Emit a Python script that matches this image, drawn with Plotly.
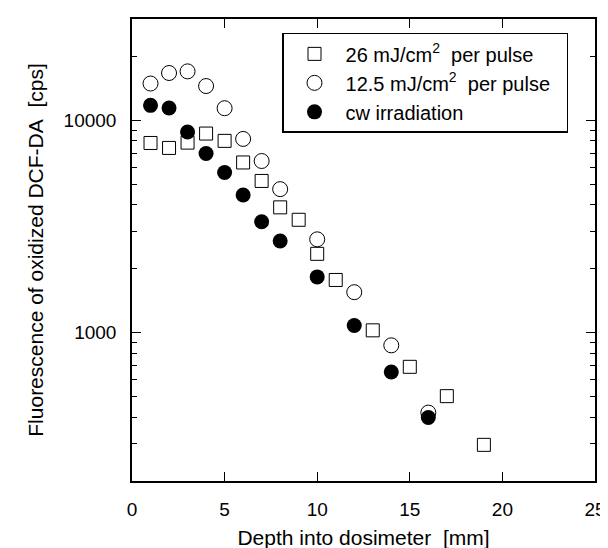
import plotly.graph_objects as go
import numpy as np

# Data
sq_depth = [1, 2, 3, 4, 5, 6, 7, 8, 9, 10, 11, 13, 15, 17, 19]
sq_val = [7820, 7410, 7850, 8660, 8000, 6330, 5180, 3890, 3400, 2350, 1770, 1025, 690, 502, 296]

open_depth = [1, 2, 3, 4, 5, 6, 7, 8, 10, 12, 14, 16]
open_val = [14900, 16700, 17000, 14500, 11400, 8170, 6430, 4740, 2750, 1550, 871, 420]

cw_depth = [1, 2, 3, 4, 5, 6, 7, 8, 10, 12, 14, 16]
cw_val = [11760, 11420, 8810, 6980, 5680, 4450, 3330, 2700, 1830, 1080, 652, 398]

names = ["26 mJ/cm<sup>2</sup>\u00a0 per pulse\u00a0\u00a0",
         "12.5 mJ/cm<sup>2</sup>\u00a0 per pulse\u00a0\u00a0",
         "cw irradiation"]

x_ticks = [0, 5, 10, 15, 20, 25]
y_ticks = [1000, 10000]
y_ticktext = ["1000", "10000"]
y_minor = [200, 300, 400, 500, 600, 700, 800, 900,
           2000, 3000, 4000, 5000, 6000, 7000, 8000, 9000, 20000, 30000]

FONT = "Arial, Liberation Sans, Helvetica, sans-serif"

fig = go.Figure()
fig.add_trace(go.Scatter(
    x=sq_depth, y=sq_val, mode="markers", name=names[0],
    marker=dict(symbol="square-open", size=13, color="black", line=dict(width=1))))
fig.add_trace(go.Scatter(
    x=open_depth, y=open_val, mode="markers", name=names[1],
    marker=dict(symbol="circle", size=15, color="white", line=dict(width=1, color="black"))))
fig.add_trace(go.Scatter(
    x=cw_depth, y=cw_val, mode="markers", name=names[2],
    marker=dict(symbol="circle", size=15, color="black", line=dict(width=0))))

fig.update_layout(
    width=608, height=548,
    margin=dict(l=124, r=21, t=9, b=75),
    paper_bgcolor="white", plot_bgcolor="white",
    font=dict(family=FONT, size=19, color="black"),
    showlegend=True,
    legend=dict(x=0.324, y=0.97, xanchor="left", yanchor="top",
                bordercolor="black", borderwidth=1.5, bgcolor="white",
                font=dict(size=20, family=FONT), itemwidth=52,
                tracegroupgap=0),
)

fig.update_xaxes(
    range=[0, 25], tickvals=x_ticks, ticktext=[str(v) for v in x_ticks],
    ticks="inside", ticklen=9, tickwidth=1.2, tickcolor="black",
    showline=True, linecolor="black", linewidth=1.5, mirror="ticks",
    showgrid=False, zeroline=False, ticklabelstandoff=10,
    title=dict(text="Depth into dosimeter\u00a0 [mm]", font=dict(size=21), standoff=12),
)

fig.update_yaxes(
    type="log", range=[np.log10(200), np.log10(30000)],
    tickvals=y_ticks, ticktext=y_ticktext,
    ticks="inside", ticklen=9, tickwidth=1.2, tickcolor="black",
    minor=dict(tickvals=y_minor, ticks="inside", ticklen=5, tickcolor="black", tickwidth=1, showgrid=False),
    showline=True, linecolor="black", linewidth=1.5, mirror="ticks",
    showgrid=False, zeroline=False, ticklabelstandoff=10,
    title=dict(text="Fluorescence of oxidized DCF-DA\u00a0 [cps]", font=dict(size=21), standoff=14),
)

fig.write_html("out.html")
